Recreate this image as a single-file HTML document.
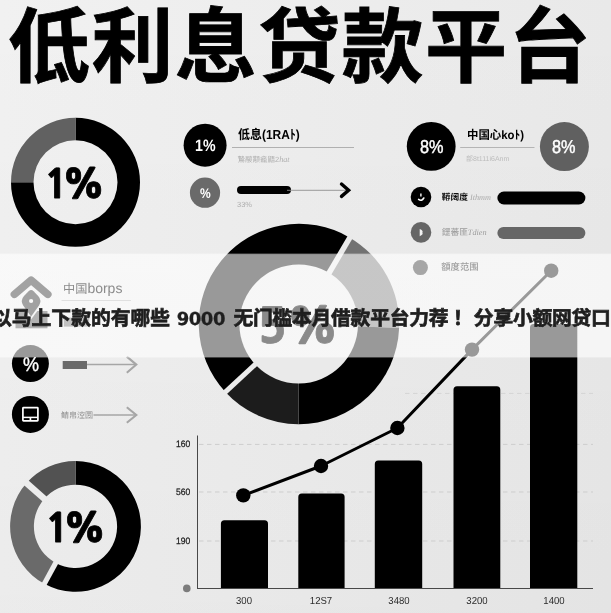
<!DOCTYPE html>
<html lang="zh-CN">
<head>
<meta charset="utf-8">
<title>低利息贷款平台</title>
<style>
  html, body { margin: 0; padding: 0; }
  body {
    width: 611px; height: 613px; overflow: hidden; position: relative;
    background: #ebebeb;
    font-family: "Liberation Sans", "Noto Sans CJK SC", sans-serif;
  }
  #stage { position: absolute; left: 0; top: 0; width: 611px; height: 613px; overflow: hidden; will-change: transform; text-rendering: geometricPrecision;
    background: linear-gradient(180deg, rgba(0,0,0,0) 0%, rgba(0,0,0,0.022) 100%), linear-gradient(90deg, #f1f1f1 0%, #e9e9e9 100%); }
  svg { position: absolute; left: 0; top: 0; }
  .t { position: absolute; white-space: nowrap; line-height: 1; color: #000; }
  #title {
    left: 8px; top: -18.7px; font-size: 82px; line-height: 120px; font-weight: 700; letter-spacing: 1.4px; color: #000; -webkit-text-stroke: 0.8px #000;
    font-family: "Noto Sans CJK SC", "Liberation Sans", sans-serif;
  }
  .big { font-size: 39px; font-weight: 800; font-family: "NanumGothic", "Liberation Sans", sans-serif; letter-spacing: -6.2px; -webkit-text-stroke: 0.8px #000; }
  .big5 { font-size: 47.5px; font-weight: 800; font-family: "NanumGothic", "Liberation Sans", sans-serif; letter-spacing: 0px; -webkit-text-stroke: 0.8px #000; }
  .w { color: #fff; }
  .h1 { font-size: 13px; font-weight: 700; font-family: "Liberation Sans", "Noto Sans CJK SC", sans-serif; }
  .h2 { font-size: 14px; color: #8c8c8c; }
  .tiny { font-size: 7.5px; color: #b0b0b0; }
  .sx { transform-origin: 0 0; }
  .row { font-size: 8.7px; color: #aaa; }
  .row b { color: #111; font-weight: 700; }
  .row i, .tiny i { font-family: "Liberation Serif", serif; font-size: 8.2px; }
  .row.g { color: #9c9c9c; }
  .ax { font-size: 9.3px; color: #222; -webkit-text-stroke: 0.25px #222; transform-origin: 0 0; transform: scaleX(0.92); }
  .axx { font-size: 10.2px; color: #2c2c2c; transform: translateX(-50%) scaleX(0.94); }
  #banner {
    position: absolute; left: 0; top: 253.2px; width: 611px; height: 105px;
    background: linear-gradient(180deg, rgba(255,255,255,0) 0px, rgba(255,255,255,0.6) 1.6px, rgba(255,255,255,0.6) 103.8px, rgba(255,255,255,0) 105px);
  }
  #bannertext {
    left: -8px; top: 310px; font-size: 19.8px; font-weight: 700; color: #1f1f1f; -webkit-text-stroke: 0.7px #1f1f1f;
  }
  #bannertext .n { font-family: "DejaVu Sans", "Liberation Sans", sans-serif; font-size: 18px; letter-spacing: -0.4px; margin-left: 1.1px; -webkit-text-stroke-width: 0.3px; }
  #bannertext .c { margin-left: 2.8px; letter-spacing: -0.25px; }
  #bannertext .e { margin-left: 4.6px; }
  #bannertext .d { margin-left: 1.2px; letter-spacing: -0.25px; }
</style>
</head>
<body>
<div id="stage">
  <div id="title" class="t">低利息贷款平台</div>

  <svg id="gfx" width="611" height="613" viewBox="0 0 611 613">
    <line x1="405" y1="393.4" x2="593" y2="393.4" stroke="#d4d4d4" stroke-width="1" stroke-dasharray="4.5 3.5"/>
    <path d="M75.50 117.80 A64.5 64.5 0 1 1 11.00 182.30 L33.50 182.30 A42 42 0 1 0 75.50 140.30 Z" fill="#000"/>
    <path d="M11.00 182.30 A64.5 64.5 0 0 1 75.50 117.80 L75.50 140.30 A42 42 0 0 0 33.50 182.30 Z" fill="#616161"/>
    <path d="M75.50 461.00 A65.4 65.4 0 1 1 44.29 583.87 L55.65 562.96 A41.6 41.6 0 1 0 75.50 484.80 Z" fill="#000"/>
    <path d="M44.29 583.87 A65.4 65.4 0 0 1 26.52 483.06 L44.34 498.84 A41.6 41.6 0 0 0 55.65 562.96 Z" fill="#6a6a6a"/>
    <path d="M26.52 483.06 A65.4 65.4 0 0 1 75.50 461.00 L75.50 484.80 A41.6 41.6 0 0 0 44.34 498.84 Z" fill="#525252"/>
    <line x1="56.60" y1="561.20" x2="43.34" y2="585.63" stroke="#ebebeb" stroke-width="5.2"/>
    <line x1="45.84" y1="500.16" x2="25.02" y2="481.74" stroke="#ececec" stroke-width="6.4"/>
    <path d="M299 324 L225.36 391.95 A100.2 100.2 0 0 1 349.86 237.66 Z" fill="#000"/>
    <path d="M299 324 L349.86 237.66 A100.2 100.2 0 0 1 399.12 328.02 Z" fill="#727272"/>
    <path d="M299 324 L399.12 328.02 A100.2 100.2 0 0 1 298.48 424.20 Z" fill="#000"/>
    <path d="M299 324 L298.48 424.20 A100.2 100.2 0 0 1 225.36 391.95 Z" fill="#1c1c1c"/>
    <line x1="318.29" y1="291.26" x2="350.87" y2="235.94" stroke="#eaeaea" stroke-width="5.5"/>
    <line x1="271.07" y1="349.77" x2="223.89" y2="393.31" stroke="#ebebeb" stroke-width="5"/>
    <ellipse cx="298.7" cy="324" rx="59.3" ry="59.5" fill="#eaeaea"/>
    <circle cx="205.1" cy="145.2" r="21.5" fill="#000"/>
    <circle cx="205" cy="192.7" r="15.1" fill="#6a6a6a"/>
    <line x1="232" y1="147.5" x2="354" y2="147.5" stroke="#b0b0b0" stroke-width="1"/>
    <line x1="241" y1="190" x2="287" y2="190" stroke="#000" stroke-width="8" stroke-linecap="round"/>
    <line x1="287" y1="190.3" x2="347" y2="190.3" stroke="#909090" stroke-width="0.9"/>
    <polyline points="341.5,184 348.6,190.2 341.5,196.4" fill="none" stroke="#000" stroke-width="3.4" stroke-linecap="round" stroke-linejoin="miter"/>
    <circle cx="431.2" cy="146.4" r="24.4" fill="#000"/>
    <circle cx="564.4" cy="146.6" r="24.5" fill="#606060"/>
    <line x1="460.2" y1="147.5" x2="534.5" y2="147.5" stroke="#b4b4b4" stroke-width="1"/>
    <circle cx="421" cy="197" r="10.3" fill="#000"/>
    <circle cx="421" cy="232.4" r="10.3" fill="#666"/>
    <rect x="497.4" y="191.5" width="88" height="13" rx="6.5" fill="#000"/>
    <rect x="497.4" y="227" width="88" height="12" rx="6" fill="#666"/>
    <line x1="420.9" y1="193.6" x2="420.9" y2="196.6" stroke="#fff" stroke-width="1.4"/>
    <path d="M418.6 199.4 Q421.6 201.6 423.8 198" fill="none" stroke="#fff" stroke-width="1.6" stroke-linecap="round"/>
    <path d="M419.7 229 Q423.6 230.6 422.4 232.5 Q423.6 234.6 419.7 236.2 Z" fill="#f2f2f2"/>
    <circle cx="30.4" cy="363.6" r="18.5" fill="#000"/>
    <circle cx="30.4" cy="414.4" r="18.5" fill="#000"/>
    <rect x="62.7" y="361" width="24.3" height="8" fill="#6a6a6a"/>
    <line x1="87" y1="364.6" x2="136" y2="364.6" stroke="#a6a6a6" stroke-width="1.5"/>
    <polyline points="126.8,356.6 136.3,364.6 126.8,372.8" fill="none" stroke="#a6a6a6" stroke-width="2.1"/>
    <line x1="93.5" y1="415" x2="136" y2="415" stroke="#a6a6a6" stroke-width="1.5"/>
    <polyline points="126.8,407.2 136.3,415 126.8,422.8" fill="none" stroke="#a6a6a6" stroke-width="2.1"/>
    <rect x="22.9" y="407.6" width="15" height="13.2" rx="0.6" fill="none" stroke="#fff" stroke-width="1.7"/>
    <line x1="22.9" y1="417.4" x2="37.9" y2="417.4" stroke="#fff" stroke-width="1.5"/>
    <line x1="30.4" y1="417.4" x2="30.4" y2="420.8" stroke="#fff" stroke-width="1.7"/>
    <line x1="199" y1="444.4" x2="593" y2="444.4" stroke="#cdcdcd" stroke-width="1" stroke-dasharray="4.5 3.5"/>
    <line x1="199" y1="492" x2="593" y2="492" stroke="#cdcdcd" stroke-width="1" stroke-dasharray="4.5 3.5"/>
    <line x1="199" y1="541" x2="593" y2="541" stroke="#cdcdcd" stroke-width="1" stroke-dasharray="4.5 3.5"/>
    <path d="M220.9 588.4 L220.9 523.7 Q220.9 520.2 224.4 520.2 L264.5 520.2 Q268 520.2 268 523.7 L268 588.4 Z" fill="#000"/>
    <path d="M298.3 588.4 L298.3 496.9 Q298.3 493.4 301.8 493.4 L341.1 493.4 Q344.6 493.4 344.6 496.9 L344.6 588.4 Z" fill="#000"/>
    <path d="M374.8 588.4 L374.8 464.0 Q374.8 460.5 378.3 460.5 L418.7 460.5 Q422.2 460.5 422.2 464.0 L422.2 588.4 Z" fill="#000"/>
    <path d="M453.5 588.4 L453.5 389.7 Q453.5 386.2 457.0 386.2 L496.8 386.2 Q500.3 386.2 500.3 389.7 L500.3 588.4 Z" fill="#000"/>
    <path d="M530 588.4 L530 327.5 Q530 324 533.5 324 L573.8 324 Q577.3 324 577.3 327.5 L577.3 588.4 Z" fill="#000"/>
    <line x1="197.5" y1="435.5" x2="197.5" y2="589" stroke="#484848" stroke-width="1"/>
    <line x1="197" y1="588.5" x2="593" y2="588.5" stroke="#484848" stroke-width="1"/>
    <circle cx="186.8" cy="588.4" r="3.8" fill="#7c7c7c"/>
    <polyline points="243.3,495.4 321,466 397.4,428 472,349.6 551.2,270.7" fill="none" stroke="#000" stroke-width="3" stroke-linejoin="round"/>
    <circle cx="243.3" cy="495.4" r="7.2" fill="#000"/>
    <circle cx="321" cy="466" r="7.2" fill="#000"/>
    <circle cx="397.4" cy="428" r="7.2" fill="#000"/>
    <circle cx="472" cy="349.6" r="7.2" fill="#000"/>
    <circle cx="551.2" cy="270.7" r="7.2" fill="#000"/>
  </svg>

  <div class="t big" style="left:44.6px;top:164.6px;">1%</div>
  <div class="t big" style="left:45.5px;top:509.4px;">1%</div>

  <div class="t w sx" style="left:195.3px;top:137.6px;font-size:16.5px;font-weight:700;transform:scaleX(0.86);">1%</div>
  <div class="t w sx" style="left:200px;top:186px;font-size:14px;font-weight:700;transform:scaleX(0.86);">%</div>
  <div class="t h1 sx" style="left:237.5px;top:128.3px;transform:scaleX(0.92);">低息(1RAﾄ)</div>
  <div class="t tiny" style="left:237.5px;top:155.6px;">鷙鬷颟龕鼯2<i>hat</i></div>
  <div class="t tiny" style="left:237px;top:200.5px;">33%</div>

  <div class="t w sx" style="left:419.7px;top:137.5px;font-size:18.5px;transform:scaleX(0.88);-webkit-text-stroke:0.45px #fff;">8%</div>
  <div class="t w sx" style="left:552px;top:137.5px;font-size:18.5px;transform:scaleX(0.88);-webkit-text-stroke:0.45px #fff;">8%</div>
  <div class="t h1 sx" style="left:466.5px;top:128.6px;font-size:12px;transform:scaleX(0.95);">中国心koﾄ)</div>
  <div class="t tiny" style="left:466px;top:155.8px;color:#bcbcbc;font-size:7px;">部8t111i6Anm</div>
  <div class="t row" style="left:441.8px;top:193.3px;"><b>鞯阔度</b><i> Ithmm</i></div>
  <div class="t row g" style="left:441.8px;top:228.4px;">鎠蕃匪<i>Tdien</i></div>

  <div class="t w sx" style="left:23px;top:355.3px;font-size:20px;-webkit-text-stroke:0.4px #fff;transform:scaleX(0.9);">%</div>
  <div class="t tiny" style="left:61px;top:411.6px;font-size:8px;color:#8a8a8a;">鲭帛涳圐</div>

  <div class="t ax" style="left:175.5px;top:440px;">160</div>
  <div class="t ax" style="left:175.5px;top:487.5px;">560</div>
  <div class="t ax" style="left:175.5px;top:536.5px;">190</div>
  <div class="t axx" style="left:243.7px;top:597.3px;">300</div>
  <div class="t axx" style="left:321px;top:597.3px;">12S7</div>
  <div class="t axx" style="left:398.5px;top:597.3px;">3480</div>
  <div class="t axx" style="left:477px;top:597.3px;">3200</div>
  <div class="t axx" style="left:554px;top:597.3px;">1400</div>

  <div id="banner"></div>
  <svg id="gfx2" width="611" height="613" viewBox="0 0 611 613">
    <circle cx="420.4" cy="267.6" r="7.5" fill="#a6a6a6"/>
    <rect x="15.5" y="311" width="32" height="17.3" fill="#b2b2b2"/>
    <path d="M24.5 310.5 L31.1 319.5 L37.7 310.5 Z" fill="#f7f7f7"/>
    <rect x="63.8" y="317.6" width="25.4" height="9" fill="#c2c2c2"/>
    <path d="M14.4 294.3 L31.1 280.2 L47.8 294.3" fill="none" stroke="#a2a2a2" stroke-width="7.6" stroke-linejoin="round" stroke-linecap="round"/>
    <path d="M31.1 316.5 L23.2 305.5 Q20 300.5 24 296 L28.6 291.2 Q31.1 288.8 33.6 291.2 L38.2 296 Q42.2 300.5 39 305.5 Z" fill="#a2a2a2"/>
    <circle cx="31.1" cy="301" r="2.1" fill="#fafafa"/>
    <line x1="61.5" y1="300.5" x2="131" y2="300.5" stroke="#e0e0e0" stroke-width="1"/>
  </svg>
  <div class="t big5" style="left:257.5px;top:302.5px;color:#8a8a8a;-webkit-text-stroke-color:#8a8a8a;">5%</div>
  <div class="t row" style="left:441.3px;top:262.6px;font-size:9.3px;color:#9e9e9e;font-weight:500;">額度范围</div>
  <div class="t h2" style="left:63px;top:281px;"><span style="font-size:12.2px;">中国</span>borps</div>
  <div id="bannertext" class="t">以马上下款的有哪些 <span class="n">9000</span> <span class="c">无门槛本月借款平台力荐</span><span class="e">！</span><span class="d">分享小额网贷口</span></div>
</div>
</body>
</html>
